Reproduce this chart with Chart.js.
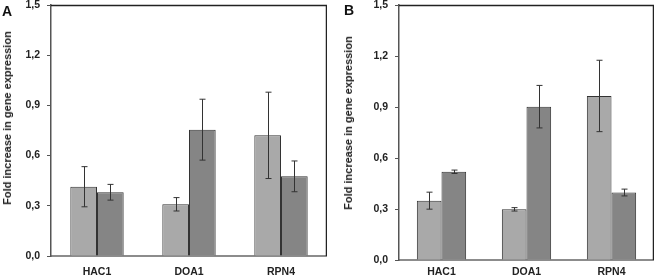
<!DOCTYPE html>
<html>
<head>
<meta charset="utf-8">
<script src="https://cdn.jsdelivr.net/npm/chart.js@4/dist/chart.umd.min.js"></script>
<style>
  html, body { margin: 0; padding: 0; background: #fff; }
  #wrap { position: relative; width: 654px; height: 278px; background: #fff; overflow: hidden; }
  .pane { position: absolute; top: 0; width: 327px; height: 278px; }
  .ytitle { position: absolute; white-space: nowrap; font: bold 11px "Liberation Sans", Arial, sans-serif; color: #222;
            transform: translate(-50%, -50%) rotate(-90deg); }
  .plabel { position: absolute; font: bold 14px "Liberation Sans", Arial, sans-serif; color: #111; line-height: 1; }
</style>
</head>
<body>
<div id="wrap">
  <div class="pane" style="left:0"><canvas id="cA"></canvas></div>
  <div class="pane" style="left:327px"><canvas id="cB"></canvas></div>
  <div class="plabel" style="left:2px;top:4px">A</div>
  <div class="plabel" style="left:344px;top:3px">B</div>
  <div class="ytitle" style="left:7px;top:118px">Fold increase in gene expression</div>
  <div class="ytitle" style="left:348px;top:123px">Fold increase in gene expression</div>
</div>
<script>
const categories = ['HAC1', 'DOA1', 'RPN4'];
const tickLabels = ['0,0', '0,3', '0,6', '0,9', '1,2', '1,5'];

const aLight = [0.414, 0.309, 0.721];
const aLightErr = [0.12, 0.04, 0.258];
const aDark = [0.381, 0.755, 0.476];
const aDarkErr = [0.047, 0.182, 0.092];

const bLight = [0.349, 0.298, 0.965];
const bLightErr = [0.05, 0.01, 0.21];
const bDark = [0.519, 0.902, 0.397];
const bDarkErr = [0.01, 0.125, 0.02];

const FONT = '"Liberation Sans", Arial, sans-serif';

const errorBars = {
  id: 'errorBars',
  afterDatasetsDraw(chart) {
    const ctx = chart.ctx;
    const y = chart.scales.y;
    ctx.save();
    ctx.strokeStyle = '#333';
    ctx.lineWidth = 1;
    chart.data.datasets.forEach((ds, di) => {
      const meta = chart.getDatasetMeta(di);
      meta.data.forEach((bar, i) => {
        const v = ds.data[i], e = ds.errors[i];
        const x = Math.round(bar.x) + 0.5;
        const yt = y.getPixelForValue(v + e);
        const yb = y.getPixelForValue(v - e);
        ctx.beginPath();
        ctx.moveTo(x, yt); ctx.lineTo(x, yb);
        ctx.moveTo(x - 3, yt); ctx.lineTo(x + 3, yt);
        ctx.moveTo(x - 3, yb); ctx.lineTo(x + 3, yb);
        ctx.stroke();
      });
    });
    const a = chart.chartArea;
    ctx.strokeStyle = '#222';
    ctx.lineWidth = 1.5;
    ctx.beginPath();
    ctx.moveTo(a.left, a.top + 0.5);
    ctx.lineTo(a.right - 0.5, a.top + 0.5);
    ctx.lineTo(a.right - 0.5, a.bottom);
    ctx.stroke();
    ctx.restore();
  }
};

function makeChart(id, light, lightErr, dark, darkErr, yWidth, xHeight, xPad) {
  return new Chart(document.getElementById(id), {
    type: 'bar',
    data: {
      labels: categories,
      datasets: [
        { data: light, errors: lightErr, backgroundColor: '#a9a9a9', borderColor: '#333', borderWidth: 1,
          barPercentage: 1, categoryPercentage: 0.58 },
        { data: dark, errors: darkErr, backgroundColor: '#858585', borderColor: '#333', borderWidth: 1,
          barPercentage: 1, categoryPercentage: 0.58 }
      ]
    },
    options: {
      responsive: true,
      maintainAspectRatio: false,
      animation: false,
      layout: { padding: { left: 0, top: 5, right: 0, bottom: 0 } },
      plugins: { legend: { display: false }, tooltip: { enabled: false } },
      scales: {
        x: {
          grid: { display: false },
          border: { display: true, color: '#8c8c8c', width: 2 },
          ticks: { color: '#222', padding: xPad, font: { family: FONT, size: 10.5, weight: 'bold' } },
          afterFit(s) { s.height = xHeight; s.paddingLeft = 0; s.paddingRight = 0; }
        },
        y: {
          min: 0, max: 1.5,
          grid: { drawOnChartArea: false, drawTicks: true, tickLength: 4, tickColor: '#555' },
          border: { display: true, color: '#555', width: 1.5 },
          ticks: {
            stepSize: 0.3, padding: 7, color: '#222',
            font: { family: FONT, size: 10.5, weight: 'bold' },
            callback: (v, i) => tickLabels[i]
          },
          afterFit(s) { s.width = yWidth; s.paddingTop = 0; s.paddingBottom = 0; }
        }
      }
    },
    plugins: [errorBars]
  });
}

makeChart('cA', aLight, aLightErr, aDark, aDarkErr, 51, 22, 1.5);
makeChart('cB', bLight, bLightErr, bDark, bDarkErr, 72, 18, -2);
</script>
</body>
</html>
